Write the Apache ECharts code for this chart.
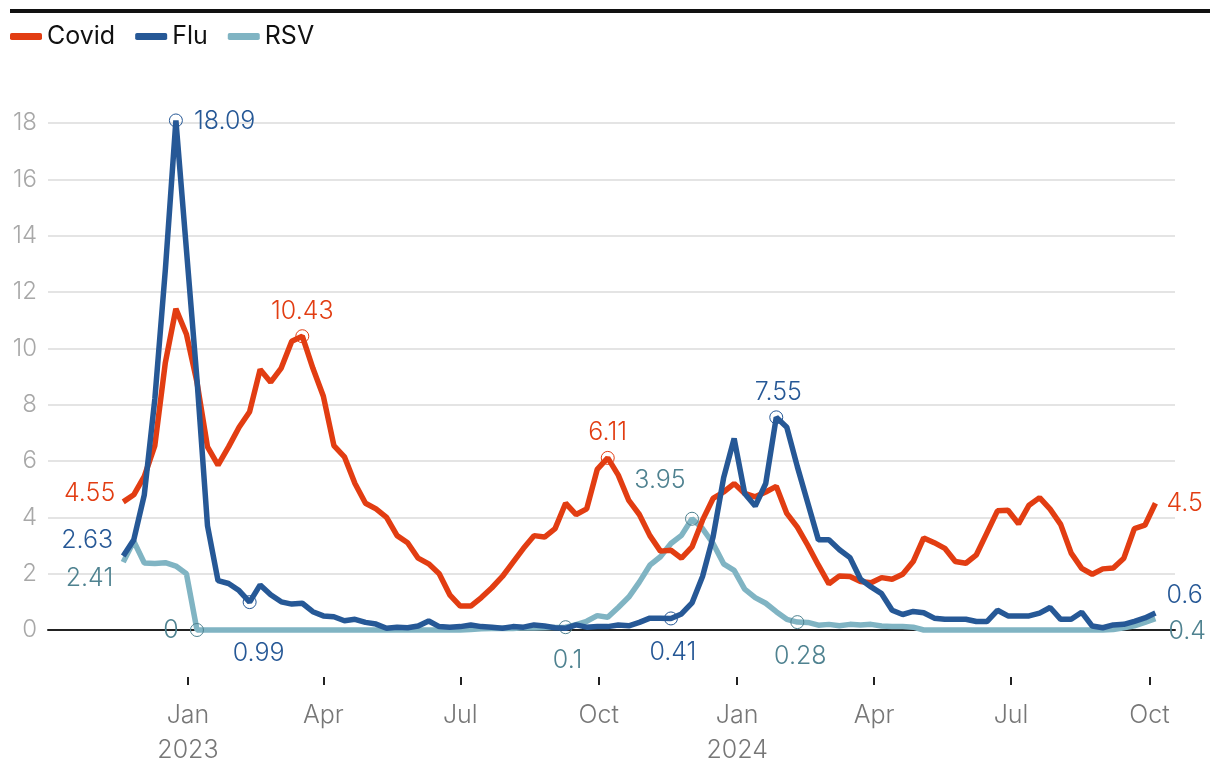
<!DOCTYPE html>
<html>
<head>
<meta charset="utf-8">
<script src="https://cdn.jsdelivr.net/npm/echarts@6/dist/echarts.min.js"></script>
<style>
html,body{margin:0;padding:0;background:#fff;}
#chart{width:1220px;height:778px;}
</style>
</head>
<body>
<div id="chart"></div>
<script>
// Weekly observations, first week ending 2022-11-19, 99 weeks
const startDate = Date.UTC(2022, 10, 19);
const weekCount = 99;
const dates = [];
for (let i = 0; i < weekCount; i++) dates.push(startDate + i * 7 * 86400000);

const seriesNames = ['Covid', 'Flu', 'RSV'];

const covid = [4.55,4.8,5.45,6.55,9.5,11.4,10.5,8.8,6.5,5.85,
  6.5,7.2,7.75,9.25,8.8,9.3,10.25,10.43,9.3,8.3,
  6.55,6.15,5.2,4.5,4.3,4.0,3.35,3.1,2.55,2.35,
  2.0,1.25,0.85,0.85,1.15,1.5,1.9,2.4,2.9,3.35,
  3.3,3.6,4.5,4.1,4.3,5.7,6.11,5.5,4.6,4.1,
  3.35,2.8,2.83,2.55,2.95,3.9,4.67,4.9,5.2,4.85,
  4.73,4.9,5.1,4.14,3.65,3.0,2.3,1.64,1.92,1.9,
  1.72,1.68,1.86,1.8,1.98,2.43,3.27,3.1,2.9,2.43,
  2.37,2.67,3.45,4.23,4.25,3.77,4.43,4.7,4.29,3.75,
  2.73,2.19,1.98,2.17,2.2,2.55,3.6,3.72,4.5];

const flu = [2.63,3.2,4.8,8.2,12.8,18.09,13.5,8.9,3.7,1.75,
  1.65,1.4,0.99,1.6,1.25,1.0,0.92,0.95,0.65,0.5,
  0.47,0.33,0.38,0.27,0.21,0.06,0.1,0.08,0.14,0.32,
  0.12,0.1,0.12,0.18,0.12,0.1,0.06,0.12,0.1,0.18,
  0.14,0.08,0.06,0.18,0.1,0.12,0.12,0.18,0.15,0.27,
  0.42,0.42,0.41,0.57,0.96,1.9,3.3,5.4,6.8,4.85,
  4.4,5.2,7.55,7.2,5.8,4.5,3.2,3.2,2.85,2.57,
  1.8,1.53,1.29,0.7,0.55,0.66,0.61,0.42,0.38,0.38,
  0.38,0.3,0.3,0.7,0.5,0.5,0.5,0.6,0.8,0.38,
  0.38,0.63,0.14,0.08,0.18,0.2,0.31,0.43,0.6];

const rsv = [2.41,3.15,2.38,2.36,2.39,2.27,2.0,0,0,0,
  0,0,0,0,0,0,0,0,0,0,
  0,0,0,0,0,0,0,0,0,0,
  0,0,0,0.02,0.04,0.05,0.06,0.05,0.08,0.07,
  0.08,0.09,0.1,0.19,0.31,0.51,0.45,0.8,1.17,1.7,
  2.3,2.6,3.07,3.36,3.95,3.6,3.07,2.35,2.12,1.45,
  1.15,0.95,0.65,0.38,0.28,0.27,0.17,0.2,0.15,0.2,
  0.18,0.2,0.14,0.12,0.12,0.1,0,0,0,0,
  0,0,0,0,0,0,0,0,0,0,
  0,0,0,0,0.02,0.08,0.15,0.27,0.4];

// x-axis tick labels (quarter starts)
const tickDates = [Date.UTC(2023,0,1), Date.UTC(2023,3,1), Date.UTC(2023,6,1), Date.UTC(2023,9,1),
                   Date.UTC(2024,0,1), Date.UTC(2024,3,1), Date.UTC(2024,6,1), Date.UTC(2024,9,1)];
const tickLabels = ['Jan\n2023','Apr','Jul','Oct','Jan\n2024','Apr','Jul','Oct'];
const yTicks = [0,2,4,6,8,10,12,14,16,18];

// annotated points (index into series) and label placement
const covidNotes = [
  {i:0, circle:false, align:'right', dx:-8, dy:-8},
  {i:17, circle:true, align:'center', dx:0, dy:-25},
  {i:46, circle:true, align:'center', dx:0, dy:-25},
  {i:98, circle:false, align:'left', dx:11, dy:0}
];
const fluNotes = [
  {i:0, circle:false, align:'right', dx:-10, dy:-15},
  {i:5, circle:true, align:'left', dx:18, dy:1},
  {i:12, circle:true, align:'center', dx:9, dy:51},
  {i:52, circle:true, align:'center', dx:2, dy:34},
  {i:62, circle:true, align:'center', dx:2, dy:-25},
  {i:98, circle:false, align:'left', dx:11, dy:-18}
];
const rsvNotes = [
  {i:0, circle:false, align:'right', dx:-10, dy:16},
  {i:7, circle:true, align:'center', dx:-26, dy:0},
  {i:42, circle:true, align:'center', dx:2, dy:33},
  {i:54, circle:true, align:'center', dx:-32, dy:-38},
  {i:64, circle:true, align:'center', dx:3, dy:34},
  {i:98, circle:false, align:'left', dx:13, dy:13}
];

const FONT = 'Inter, Lato, sans-serif';
const colors = {Covid:'#e23d12', Flu:'#265896', RSV:'#80b4c3'};
const labelColors = {Covid:'#e23d12', Flu:'#265896', RSV:'#4f8290'};

function build(values, name, notes) {
  return values.map((v, i) => {
    const a = notes.find(n => n.i === i);
    if (!a) return [dates[i], v];
    return {
      value: [dates[i], v],
      symbol: 'circle',
      symbolSize: a.circle ? 13 : 1,
      itemStyle: {color: 'rgba(0,0,0,0)', borderColor: labelColors[name], borderWidth: a.circle ? 1 : 0},
      label: {
        show: true, position: 'inside', align: a.align, verticalAlign: 'middle',
        offset: [a.dx, a.dy], color: labelColors[name], fontSize: 25,
        fontFamily: FONT, fontWeight: 300, formatter: String(v)
      }
    };
  });
}

function mkSeries(name, values, notes, z) {
  return {
    name: name, type: 'line', xAxisIndex: 0, yAxisIndex: 0,
    data: build(values, name, notes),
    symbol: 'none', showSymbol: true, clip: false, z: z,
    color: colors[name],
    lineStyle: {width: 5.5, color: colors[name]},
    emphasis: {disabled: true},
    animation: false
  };
}

const chart = echarts.init(document.getElementById('chart'), null, {renderer: 'canvas'});
chart.setOption({
  animation: false,
  backgroundColor: '#fff',
  textStyle: {fontFamily: FONT},
  graphic: [{type: 'rect', left: 10, top: 9, shape: {width: 1200, height: 4}, style: {fill: '#111'}, silent: true}],
  legend: {
    left: 5, top: 19, itemWidth: 32, itemHeight: 7, itemGap: 20, icon: 'roundRect',
    data: seriesNames,
    textStyle: {fontSize: 25, color: '#111', fontFamily: FONT}
  },
  grid: {left: 48, right: 45, top: 123, bottom: 148, containLabel: false},
  xAxis: [
    {
      type: 'value', min: Date.UTC(2022,8,30), max: Date.UTC(2024,9,18),
      axisLine: {show: true, lineStyle: {color: '#222', width: 2}},
      axisTick: {show: false}, axisLabel: {show: false}, splitLine: {show: false}
    },
    {
      type: 'value', min: Date.UTC(2022,8,30), max: Date.UTC(2024,9,18),
      position: 'bottom', offset: 47,
      axisLine: {show: false},
      axisTick: {show: true, customValues: tickDates, length: 8, lineStyle: {color: '#222', width: 2}},
      axisLabel: {
        customValues: tickDates, margin: 21, color: '#777', fontSize: 25, fontFamily: FONT, fontWeight: 300,
        lineHeight: 35,
        formatter: function (val) { const k = tickDates.indexOf(val); return k >= 0 ? tickLabels[k] : ''; }
      },
      splitLine: {show: false}
    }
  ],
  yAxis: {
    type: 'value', min: 0, max: 18, interval: 2,
    axisLine: {show: false}, axisTick: {show: false},
    axisLabel: {
      customValues: yTicks, color: '#a8a8a8', fontSize: 24, fontFamily: FONT, fontWeight: 300, margin: 11
    },
    splitLine: {lineStyle: {color: '#e4e4e4', width: 2}}
  },
  series: [
    mkSeries('Covid', covid, covidNotes, 3),
    mkSeries('Flu', flu, fluNotes, 4),
    mkSeries('RSV', rsv, rsvNotes, 2)
  ]
});
</script>
</body>
</html>
